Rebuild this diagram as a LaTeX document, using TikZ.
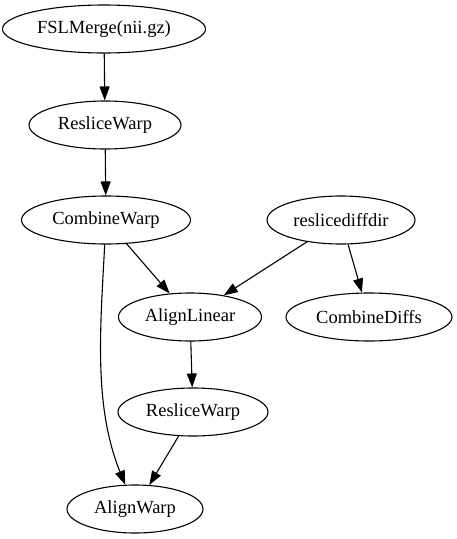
\documentclass[tikz,border=0pt]{standalone}
\usepackage{fontspec}
\setmainfont{Liberation Serif}
\usetikzlibrary{graphs}
\usetikzlibrary{shapes.geometric,arrows.meta}

\begin{document}
\begin{tikzpicture}[x=1pt,y=-1pt,line width=1.1pt,
  >={Triangle[length=14pt,width=10pt]},
  task/.style={ellipse,draw,inner xsep=2pt,inner ysep=0pt,minimum height=48pt,
    font=\fontsize{18.5}{22}\selectfont}]
  \useasboundingbox (0,0) rectangle (456,539);
  \node[task,minimum width=203pt] (fsl) at (104,29) {FSLMerge(nii.gz)};
  \node[task,minimum width=152pt] (rwa) at (105,125) {ResliceWarp};
  \node[task,minimum width=169pt] (cw) at (106,220) {CombineWarp};
  \node[task,minimum width=148pt] (rdd) at (341,220) {reslicediffdir};
  \node[task,minimum width=143pt] (al) at (190,317) {AlignLinear};
  \node[task,minimum width=166pt] (cd) at (369,317) {CombineDiffs};
  \node[task,minimum width=150pt] (rwb) at (193,412) {ResliceWarp};
  \node[task,minimum width=136pt] (aw) at (135,509) {AlignWarp};
  \graph{(fsl) -> (rwa)};
  \graph{(rwa) -> (cw)};
  \graph{(cw) -> (al)};
  \graph{(cw) ->[out=-93,in=112,looseness=0.9] (aw)};
  \graph{(rdd) -> (al)};
  \graph{(rdd) -> (cd)};
  \graph{(al) -> (rwb)};
  \graph{(rwb) -> (aw)};
\end{tikzpicture}
\end{document}
